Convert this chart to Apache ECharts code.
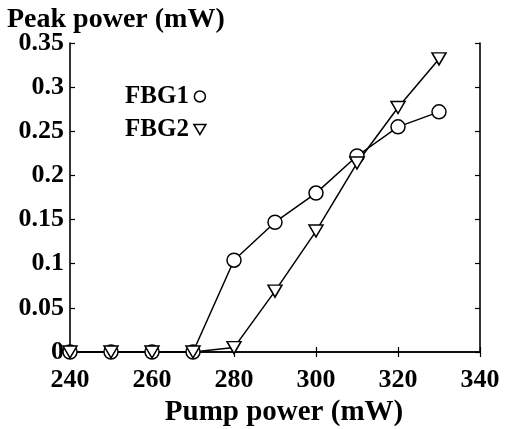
<!DOCTYPE html>
<html><head><meta charset="utf-8">
<script src="https://cdn.jsdelivr.net/npm/echarts@6/dist/echarts.min.js"></script>
<style>html,body{margin:0;padding:0;background:#fff}#c{width:511px;height:429px}</style>
</head><body><div id="c"></div>
<script>
const pump = [240, 250, 260, 270, 280, 290, 300, 310, 320, 330];
const fbg1 = [0, 0, 0, 0, 0.104, 0.147, 0.180, 0.222, 0.255, 0.272];
const fbg2 = [0, 0, 0, 0, 0.005, 0.069, 0.137, 0.214, 0.277, 0.332];
const xTicks = [240, 260, 280, 300, 320, 340];
const yTicks = [0, 0.05, 0.1, 0.15, 0.2, 0.25, 0.3, 0.35];

const FONT = '"Liberation Serif", "Times New Roman", serif';
const tri = 'path://M0,0 L12,0 L6,10 Z';
const chart = echarts.init(document.getElementById('c'));
const axisLine = {show: true, lineStyle: {color: '#000', width: 1.6}};
const tickIn = {show: true, inside: true, length: 5, lineStyle: {color: '#000', width: 1.2}};
chart.setOption({
  animation: false,
  backgroundColor: '#fff',
  title: {text: 'Peak power (mW)', left: 2, top: 1,
    textStyle: {fontFamily: FONT, fontWeight: 'bold', fontSize: 28, color: '#000'}},
  grid: {left: 70, right: 31, top: 43, bottom: 77, containLabel: false, outerBoundsMode: 'none'},
  legend: {
    orient: 'vertical', left: 120, top: 79, align: 'right',
    itemWidth: 12, itemHeight: 11, itemGap: 8,
    textStyle: {fontFamily: FONT, fontWeight: 'bold', fontSize: 25, color: '#000'},
    data: [{name: 'FBG1', icon: 'circle'}, {name: 'FBG2', icon: tri}],
    itemStyle: {color: '#fff', borderColor: '#000', borderWidth: 1.5}
  },
  xAxis: [{
    type: 'value', min: 240, max: 340, interval: 20, position: 'bottom',
    axisLine, axisTick: tickIn, splitLine: {show: false},
    axisLabel: {fontFamily: FONT, fontWeight: 'bold', fontSize: 26, color: '#000', margin: 15,
      formatter: v => xTicks.includes(v) ? String(v) : ''},
    name: 'Pump power (mW)', nameLocation: 'middle', nameGap: 46,
    nameTextStyle: {fontFamily: FONT, fontWeight: 'bold', fontSize: 29, color: '#000', padding: [0, 0, 0, 18]}
  }, {
    type: 'value', min: 240, max: 340, interval: 20, position: 'top',
    axisLine, axisTick: tickIn, axisLabel: {show: false}, splitLine: {show: false}
  }],
  yAxis: [{
    type: 'value', min: 0, max: 0.35, interval: 0.05, position: 'left',
    axisLine, axisTick: tickIn, splitLine: {show: false},
    axisLabel: {fontFamily: FONT, fontWeight: 'bold', fontSize: 26, color: '#000', margin: 6,
      formatter: v => { const t = yTicks.find(y => Math.abs(y - v) < 1e-9); return t === undefined ? '' : String(t); }}
  }, {
    type: 'value', min: 0, max: 0.35, interval: 0.05, position: 'right',
    axisLine, axisTick: tickIn, axisLabel: {show: false}, splitLine: {show: false}
  }],
  series: [{
    name: 'FBG1', type: 'line', xAxisIndex: 0, yAxisIndex: 0,
    data: pump.map((x, i) => [x, fbg1[i]]),
    symbol: 'circle', symbolSize: 14,
    lineStyle: {color: '#000', width: 1.5},
    itemStyle: {color: '#fff', borderColor: '#000', borderWidth: 1.5}
  }, {
    name: 'FBG2', type: 'line', xAxisIndex: 0, yAxisIndex: 0,
    data: pump.map((x, i) => [x, fbg2[i]]),
    symbol: tri, symbolSize: [14, 12],
    lineStyle: {color: '#000', width: 1.5},
    itemStyle: {color: '#fff', borderColor: '#000', borderWidth: 1.5}
  }]
});
</script></body></html>
